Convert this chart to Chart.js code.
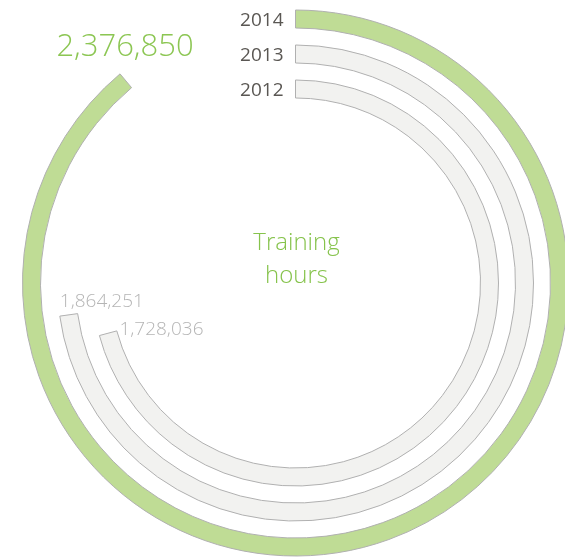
<!DOCTYPE html>
<html>
<head>
<meta charset="utf-8">
<script src="https://cdn.jsdelivr.net/npm/chart.js@4.4.0/dist/chart.umd.min.js"></script>
<style>
  html, body { margin: 0; padding: 0; background: #fff; overflow: hidden; }
  #wrap { position: relative; width: 600px; height: 557px; }
</style>
</head>
<body>
<div id="wrap"><canvas id="rings" width="600" height="557"></canvas></div>
<script>
// data (outer ring first)
const years = ['2014', '2013', '2012'];
const hours = [2376850, 1864251, 1728036];
const sweepDeg = [320, 262, 255]; // arc length as drawn in the original
const centerTitle = ['Training', 'hours'];

const GREEN = '#bfdc95';
const GRAY = '#f2f2f0';
const EDGE = '#b0b0b0';
const NONE = 'rgba(0,0,0,0)';

const datasets = [];
years.forEach((yr, i) => {
  if (i > 0) {
    // spacer ring between the years
    datasets.push({ label: '', data: [1], backgroundColor: NONE, borderWidth: 0, weight: 17 });
  }
  const rest = hours[i] * (360 - sweepDeg[i]) / sweepDeg[i];
  datasets.push({
    label: yr,
    data: [hours[i], rest],
    backgroundColor: [i === 0 ? GREEN : GRAY, NONE],
    borderColor: [EDGE, NONE],
    borderWidth: [1, 0],
    weight: 18
  });
});

function fmt(n) {
  return n.toString().replace(/\B(?=(\d{3})+(?!\d))/g, ',');
}

// labels offsets from the end of each arc
const valueLabelPos = [[5, -18, 'center'], [0, -9, 'left'], [20, -1, 'left']];
const valueLabelStyle = [['#8cc653', 31], ['#b5b5b5', 19], ['#b5b5b5', 19]];

const textPlugin = {
  id: 'ringText',
  afterDatasetsDraw(chart) {
    const ctx = chart.ctx;
    ctx.save();
    ctx.textBaseline = 'alphabetic';
    years.forEach((yr, i) => {
      const meta = chart.getDatasetMeta(i * 2);
      const arc = meta.data[0];
      const p = arc.getProps(['x', 'y', 'outerRadius', 'innerRadius', 'endAngle'], true);
      // year at the start of the ring
      ctx.font = '19px "Open Sans"';
      ctx.fillStyle = '#5a5753';
      ctx.textAlign = 'right';
      ctx.fillText(yr, p.x - 12, p.y - (p.outerRadius + p.innerRadius) / 2 + 7);
      // value at the end of the ring
      const ex = p.x + p.outerRadius * Math.cos(p.endAngle);
      const ey = p.y + p.outerRadius * Math.sin(p.endAngle);
      const [dx, dy, align] = valueLabelPos[i];
      ctx.font = '300 ' + valueLabelStyle[i][1] + 'px "Open Sans"';
      ctx.fillStyle = valueLabelStyle[i][0];
      ctx.textAlign = align;
      ctx.fillText(fmt(hours[i]), ex + dx, ey + dy);
    });
    // title in the middle
    const c = chart.getDatasetMeta(0).data[0];
    ctx.font = '300 24px "Open Sans"';
    ctx.fillStyle = '#86c34c';
    ctx.textAlign = 'center';
    ctx.fillText(centerTitle[0], c.x + 1, 250);
    ctx.fillText(centerTitle[1], c.x + 1, 283);
    ctx.restore();
  }
};

new Chart(document.getElementById('rings'), {
  type: 'doughnut',
  data: { labels: ['hours', ''], datasets: datasets },
  options: {
    responsive: false,
    animation: false,
    events: [],
    radius: 273,
    cutout: '67.77%',
    layout: { padding: { left: 0, right: 9, top: 9, bottom: 0 } },
    elements: { arc: { borderJoinStyle: 'miter', hoverOffset: 0, borderAlign: 'center' } },
    plugins: { legend: { display: false }, tooltip: { enabled: false } }
  },
  plugins: [textPlugin]
});
</script>
</body>
</html>
